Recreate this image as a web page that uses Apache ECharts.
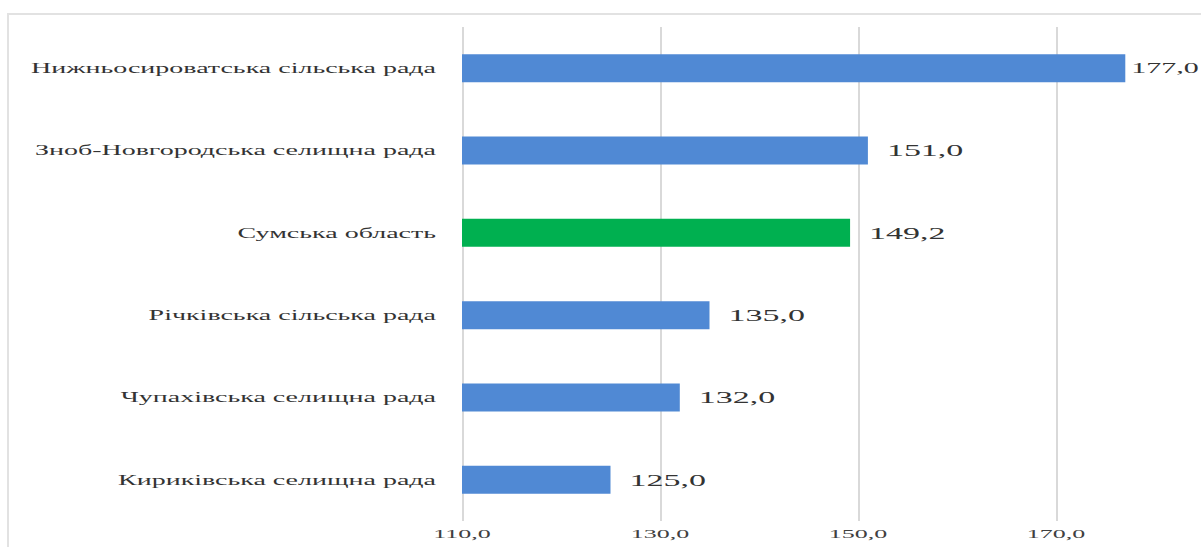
<!DOCTYPE html>
<html>
<head>
<meta charset="utf-8">
<script src="https://cdn.jsdelivr.net/npm/echarts@6/dist/echarts.min.js"></script>
<style>
  html, body { margin: 0; padding: 0; background: #ffffff; overflow: hidden; width: 1201px; height: 547px; }
  #frame { position: absolute; left: 7px; top: 13px; width: 1400px; height: 700px; border: 2px solid #e2e2e2; box-sizing: border-box; }
  #chart { position: absolute; left: 0; top: 0; width: 600.5px; height: 547px; transform: scaleX(2); transform-origin: 0 0; }
</style>
</head>
<body>
<div id="frame"></div>
<div id="chart"></div>
<script>
const categories = [
  'Нижньосироватська сільська рада',
  'Зноб-Новгородська селищна рада',
  'Сумська область',
  'Річківська сільська рада',
  'Чупахівська селищна рада',
  'Кириківська селищна рада'
];
const values = [177.0, 151.0, 149.2, 135.0, 132.0, 125.0];
const highlightCategory = 'Сумська область';
const axisMin = 110, axisMax = 180, axisStep = 20;

const blue = '#5089d4';
const green = '#00b050';
const fmt = v => v.toFixed(1).replace('.', ',');

const data = values.map((v, i) => ({
  value: v,
  itemStyle: { color: categories[i] === highlightCategory ? green : blue },
  label: i === 0 ? { distance: 3, fontSize: 15 } : { distance: 9.5 }
}));

const chart = echarts.init(document.getElementById('chart'), null, { renderer: 'svg', width: 600.5, height: 547 });
chart.setOption({
  animation: false,
  backgroundColor: 'transparent',
  grid: { left: 231, right: 23, top: 27, bottom: 26, containLabel: false },
  xAxis: {
    type: 'value',
    min: axisMin, max: axisMax, interval: axisStep,
    axisLine: { show: false },
    axisTick: { show: false },
    axisLabel: {
      formatter: v => fmt(v),
      showMaxLabel: false,
      margin: 6,
      fontFamily: 'Liberation Serif',
      fontSize: 13,
      color: '#404040'
    },
    splitLine: { show: true, showMaxLine: false, lineStyle: { color: '#d9d9d9', width: 1 } }
  },
  yAxis: {
    type: 'category',
    data: categories,
    inverse: true,
    axisLine: { show: false },
    axisTick: { show: false },
    axisLabel: {
      margin: 13,
      fontFamily: 'Liberation Serif',
      fontSize: 14,
      color: '#333333'
    },
    splitLine: { show: false }
  },
  series: [{
    type: 'bar',
    data: data,
    barWidth: 28,
    label: {
      show: true,
      position: 'right',
      formatter: p => fmt(p.value),
      fontFamily: 'Liberation Serif',
      fontSize: 17,
      color: '#333333'
    }
  }]
});
</script>
</body>
</html>
